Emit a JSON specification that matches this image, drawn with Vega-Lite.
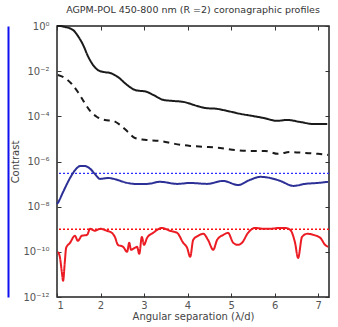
{
  "$schema": "https://vega.github.io/schema/vega-lite/v6.json",
  "width": 272,
  "height": 271,
  "autosize": {"type": "none"},
  "padding": {"left": 57, "top": 26, "right": 9, "bottom": 30},
  "background": "white",
  "title": {"text": "AGPM-POL 450-800 nm (R =2) coronagraphic profiles", "font": "DejaVu Sans", "fontSize": 9.5, "fontWeight": "normal", "color": "#333", "offset": 7},
  "config": {
    "view": {"stroke": "#222", "strokeWidth": 1.5},
    "axis": {"domain": false, "grid": false, "tickColor": "#333", "tickSize": -4, "tickWidth": 1, "labelFont": "DejaVu Sans", "labelColor": "#555", "labelFontSize": 10, "titleFont": "DejaVu Sans", "titleFontSize": 10, "titleFontWeight": "normal", "titleColor": "#444"}
  },
  "data": {"values": [
    {"x": 1.0, "c": 1.0, "s": "raw"},
    {"x": 1.07, "c": 1.0, "s": "raw"},
    {"x": 1.18, "c": 0.912, "s": "raw"},
    {"x": 1.37, "c": 0.661, "s": "raw"},
    {"x": 1.48, "c": 0.363, "s": "raw"},
    {"x": 1.6, "c": 0.145, "s": "raw"},
    {"x": 1.71, "c": 0.0468, "s": "raw"},
    {"x": 1.83, "c": 0.0186, "s": "raw"},
    {"x": 1.94, "c": 0.0112, "s": "raw"},
    {"x": 2.08, "c": 0.00912, "s": "raw"},
    {"x": 2.22, "c": 0.00832, "s": "raw"},
    {"x": 2.4, "c": 0.0055, "s": "raw"},
    {"x": 2.61, "c": 0.00245, "s": "raw"},
    {"x": 2.79, "c": 0.00148, "s": "raw"},
    {"x": 3.07, "c": 0.0012, "s": "raw"},
    {"x": 3.21, "c": 0.000891, "s": "raw"},
    {"x": 3.44, "c": 0.000537, "s": "raw"},
    {"x": 3.67, "c": 0.000479, "s": "raw"},
    {"x": 3.9, "c": 0.000437, "s": "raw"},
    {"x": 4.22, "c": 0.000288, "s": "raw"},
    {"x": 4.4, "c": 0.000234, "s": "raw"},
    {"x": 4.68, "c": 0.000214, "s": "raw"},
    {"x": 4.91, "c": 0.000174, "s": "raw"},
    {"x": 5.21, "c": 0.000129, "s": "raw"},
    {"x": 5.48, "c": 0.000105, "s": "raw"},
    {"x": 5.74, "c": 0.0000851, "s": "raw"},
    {"x": 6.06, "c": 0.0000631, "s": "raw"},
    {"x": 6.29, "c": 0.0000692, "s": "raw"},
    {"x": 6.59, "c": 0.0000562, "s": "raw"},
    {"x": 6.89, "c": 0.0000457, "s": "raw"},
    {"x": 7.21, "c": 0.0000457, "s": "raw"},

    {"x": 1.02, "c": 0.00676, "s": "coro"},
    {"x": 1.18, "c": 0.00501, "s": "coro"},
    {"x": 1.34, "c": 0.00269, "s": "coro"},
    {"x": 1.48, "c": 0.0012, "s": "coro"},
    {"x": 1.62, "c": 0.000437, "s": "coro"},
    {"x": 1.76, "c": 0.000174, "s": "coro"},
    {"x": 1.92, "c": 0.0000933, "s": "coro"},
    {"x": 2.1, "c": 0.0000692, "s": "coro"},
    {"x": 2.29, "c": 0.0000631, "s": "coro"},
    {"x": 2.45, "c": 0.0000417, "s": "coro"},
    {"x": 2.63, "c": 0.0000204, "s": "coro"},
    {"x": 2.79, "c": 0.000011, "s": "coro"},
    {"x": 3.02, "c": 0.00000912, "s": "coro"},
    {"x": 3.37, "c": 0.00000813, "s": "coro"},
    {"x": 3.71, "c": 0.00000603, "s": "coro"},
    {"x": 4.06, "c": 0.0000049, "s": "coro"},
    {"x": 4.4, "c": 0.00000447, "s": "coro"},
    {"x": 4.75, "c": 0.00000398, "s": "coro"},
    {"x": 5.09, "c": 0.00000324, "s": "coro"},
    {"x": 5.44, "c": 0.00000295, "s": "coro"},
    {"x": 5.78, "c": 0.00000295, "s": "coro"},
    {"x": 6.08, "c": 0.00000219, "s": "coro"},
    {"x": 6.36, "c": 0.00000263, "s": "coro"},
    {"x": 6.7, "c": 0.0000024, "s": "coro"},
    {"x": 7.0, "c": 0.00000219, "s": "coro"},
    {"x": 7.23, "c": 0.00000195, "s": "coro"},

    {"x": 1.0, "c": 1.32e-8, "s": "blue"},
    {"x": 1.02, "c": 1.48e-8, "s": "blue"},
    {"x": 1.14, "c": 4.47e-8, "s": "blue"},
    {"x": 1.3, "c": 1.86e-7, "s": "blue"},
    {"x": 1.41, "c": 4.0e-7, "s": "blue"},
    {"x": 1.53, "c": 6.3e-7, "s": "blue"},
    {"x": 1.64, "c": 6.3e-7, "s": "blue"},
    {"x": 1.76, "c": 4.8e-7, "s": "blue"},
    {"x": 1.87, "c": 2.82e-7, "s": "blue"},
    {"x": 1.99, "c": 1.7e-7, "s": "blue"},
    {"x": 2.17, "c": 1.86e-7, "s": "blue"},
    {"x": 2.38, "c": 1.55e-7, "s": "blue"},
    {"x": 2.52, "c": 1.26e-7, "s": "blue"},
    {"x": 2.79, "c": 1.02e-7, "s": "blue"},
    {"x": 3.07, "c": 1.02e-7, "s": "blue"},
    {"x": 3.37, "c": 1.26e-7, "s": "blue"},
    {"x": 3.76, "c": 1.02e-7, "s": "blue"},
    {"x": 4.06, "c": 1.12e-7, "s": "blue"},
    {"x": 4.45, "c": 1.02e-7, "s": "blue"},
    {"x": 4.82, "c": 1.38e-7, "s": "blue"},
    {"x": 5.16, "c": 9.12e-8, "s": "blue"},
    {"x": 5.44, "c": 1.55e-7, "s": "blue"},
    {"x": 5.67, "c": 2.09e-7, "s": "blue"},
    {"x": 5.9, "c": 1.86e-7, "s": "blue"},
    {"x": 6.13, "c": 1.38e-7, "s": "blue"},
    {"x": 6.43, "c": 8.32e-8, "s": "blue"},
    {"x": 6.7, "c": 1.02e-7, "s": "blue"},
    {"x": 6.98, "c": 1.12e-7, "s": "blue"},
    {"x": 7.23, "c": 1.26e-7, "s": "blue"},

    {"x": 1.02, "c": 1.0e-10, "s": "red"},
    {"x": 1.07, "c": 5.37e-11, "s": "red"},
    {"x": 1.11, "c": 1.32e-11, "s": "red"},
    {"x": 1.14, "c": 5.25e-12, "s": "red"},
    {"x": 1.18, "c": 3.63e-11, "s": "red"},
    {"x": 1.21, "c": 1.51e-10, "s": "red"},
    {"x": 1.3, "c": 2.51e-10, "s": "red"},
    {"x": 1.41, "c": 5.13e-10, "s": "red"},
    {"x": 1.48, "c": 3.09e-10, "s": "red"},
    {"x": 1.57, "c": 5.13e-10, "s": "red"},
    {"x": 1.69, "c": 5.62e-10, "s": "red"},
    {"x": 1.76, "c": 1.05e-9, "s": "red"},
    {"x": 1.87, "c": 8.51e-10, "s": "red"},
    {"x": 1.99, "c": 1.05e-9, "s": "red"},
    {"x": 2.15, "c": 8.51e-10, "s": "red"},
    {"x": 2.26, "c": 6.92e-10, "s": "red"},
    {"x": 2.33, "c": 4.57e-10, "s": "red"},
    {"x": 2.4, "c": 2.04e-10, "s": "red"},
    {"x": 2.52, "c": 1.66e-10, "s": "red"},
    {"x": 2.61, "c": 1.0e-10, "s": "red"},
    {"x": 2.66, "c": 2.51e-10, "s": "red"},
    {"x": 2.7, "c": 1.23e-10, "s": "red"},
    {"x": 2.79, "c": 1.51e-10, "s": "red"},
    {"x": 2.84, "c": 1.66e-10, "s": "red"},
    {"x": 2.89, "c": 8.13e-11, "s": "red"},
    {"x": 2.95, "c": 4.57e-10, "s": "red"},
    {"x": 3.0, "c": 2.04e-10, "s": "red"},
    {"x": 3.07, "c": 4.17e-10, "s": "red"},
    {"x": 3.21, "c": 6.92e-10, "s": "red"},
    {"x": 3.41, "c": 1.15e-9, "s": "red"},
    {"x": 3.6, "c": 8.51e-10, "s": "red"},
    {"x": 3.76, "c": 6.92e-10, "s": "red"},
    {"x": 3.9, "c": 2.51e-10, "s": "red"},
    {"x": 3.99, "c": 1.51e-10, "s": "red"},
    {"x": 4.06, "c": 6.03e-11, "s": "red"},
    {"x": 4.13, "c": 3.39e-10, "s": "red"},
    {"x": 4.24, "c": 5.13e-10, "s": "red"},
    {"x": 4.36, "c": 6.31e-10, "s": "red"},
    {"x": 4.47, "c": 3.39e-10, "s": "red"},
    {"x": 4.59, "c": 1.23e-10, "s": "red"},
    {"x": 4.68, "c": 3.39e-10, "s": "red"},
    {"x": 4.82, "c": 5.62e-10, "s": "red"},
    {"x": 4.93, "c": 6.92e-10, "s": "red"},
    {"x": 5.05, "c": 2.51e-10, "s": "red"},
    {"x": 5.16, "c": 2.04e-10, "s": "red"},
    {"x": 5.25, "c": 2.51e-10, "s": "red"},
    {"x": 5.39, "c": 6.92e-10, "s": "red"},
    {"x": 5.55, "c": 1.15e-9, "s": "red"},
    {"x": 5.74, "c": 1.05e-9, "s": "red"},
    {"x": 5.9, "c": 1.05e-9, "s": "red"},
    {"x": 6.13, "c": 1.15e-9, "s": "red"},
    {"x": 6.24, "c": 1.15e-9, "s": "red"},
    {"x": 6.36, "c": 9.33e-10, "s": "red"},
    {"x": 6.47, "c": 2.51e-10, "s": "red"},
    {"x": 6.54, "c": 5.37e-11, "s": "red"},
    {"x": 6.63, "c": 4.57e-10, "s": "red"},
    {"x": 6.75, "c": 6.31e-10, "s": "red"},
    {"x": 6.89, "c": 5.62e-10, "s": "red"},
    {"x": 7.05, "c": 4.17e-10, "s": "red"},
    {"x": 7.16, "c": 2.04e-10, "s": "red"},
    {"x": 7.23, "c": 1.66e-10, "s": "red"}
  ]},
  "layer": [
    {
      "mark": {"type": "line", "strokeWidth": 1, "opacity": 0},
      "encoding": {
        "x": {"field": "x", "type": "quantitative", "scale": {"domain": [1, 7.25], "nice": false, "zero": false}, "axis": {"orient": "top", "labels": false, "title": null, "values": [1, 2, 3, 4, 5, 6, 7]}},
        "y": {"field": "c", "type": "quantitative", "scale": {"type": "log", "domain": [1e-12, 1], "nice": false}, "axis": {"orient": "right", "labels": false, "title": null, "values": [1, 0.01, 0.0001, 1e-6, 1e-8, 1e-10, 1e-12]}},
        "detail": {"field": "s"}
      }
    },
    {
      "mark": {"type": "rule", "strokeWidth": 1.3, "strokeDash": [2, 2], "color": "#2e2eff"},
      "data": {"values": [{"c": 3e-7}]},
      "encoding": {
        "y": {"field": "c", "type": "quantitative", "axis": {"orient": "left", "offset": 49, "domain": true, "domainColor": "#1010f0", "domainWidth": 2, "ticks": false, "labels": false, "title": null}}
      }
    },
    {
      "mark": {"type": "rule", "strokeWidth": 1.3, "strokeDash": [2, 2], "color": "#ff1010"},
      "data": {"values": [{"c": 1e-9}]},
      "encoding": {
        "y": {"field": "c", "type": "quantitative", "axis": null}
      }
    },
    {
      "mark": {"type": "line", "strokeWidth": 2, "interpolate": "monotone"},
      "encoding": {
        "x": {"field": "x", "type": "quantitative", "axis": {"orient": "bottom", "values": [1, 2, 3, 4, 5, 6, 7], "title": "Angular separation (λ/d)", "labelPadding": 7, "titlePadding": 1}},
        "y": {"field": "c", "type": "quantitative", "axis": {"orient": "left", "values": [1, 0.01, 0.0001, 1e-6, 1e-8, 1e-10, 1e-12], "title": "Contrast", "titlePadding": 2, "labelPadding": 12, "labelExpr": "'10' + ['⁰','⁻²','⁻⁴','⁻⁶','⁻⁸','⁻¹⁰','⁻¹²'][round(-log(datum.value)/LN10/2)]"}},
        "color": {"field": "s", "type": "nominal", "scale": {"domain": ["raw", "coro", "blue", "red"], "range": ["#1a1a1a", "#1a1a1a", "#2b2f96", "#ec1c24"]}, "legend": null},
        "strokeDash": {"field": "s", "type": "nominal", "scale": {"domain": ["raw", "coro", "blue", "red"], "range": [[1, 0], [6, 5], [1, 0], [1, 0]]}, "legend": null}
      }
    }
  ],
  "resolve": {"axis": {"x": "independent", "y": "independent"}}
}
